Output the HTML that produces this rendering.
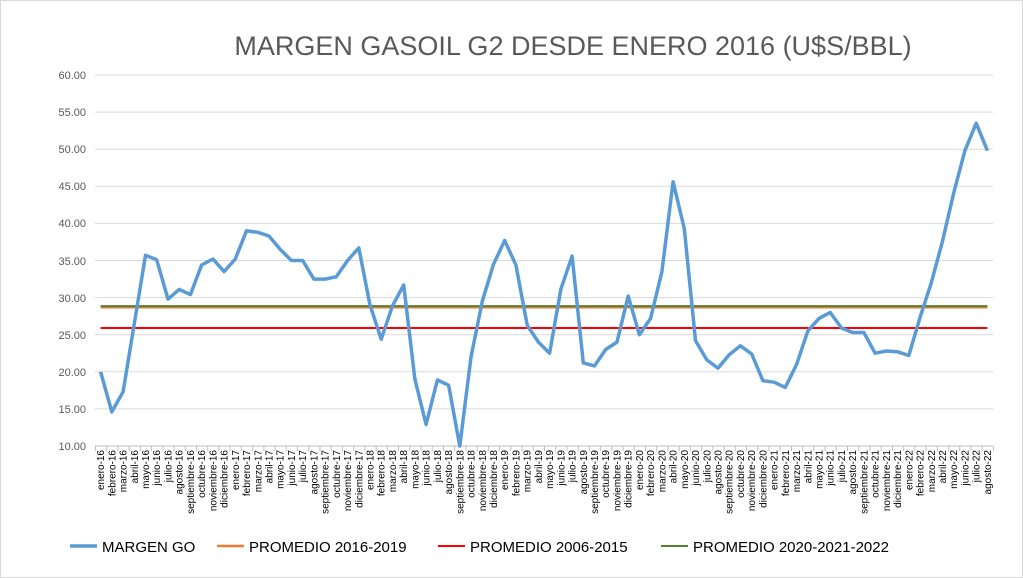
<!DOCTYPE html><html><head><style>body{margin:0;background:#fff}svg{display:block}text{font-family:"Liberation Sans",sans-serif}</style></head><body>
<svg width="1023" height="578" xmlns="http://www.w3.org/2000/svg">
<rect x="0.5" y="0.5" width="1022" height="577" fill="#fff" stroke="#d9d9d9"/>
<text x="573" y="55" font-size="27" fill="#595959" text-anchor="middle">MARGEN GASOIL G2 DESDE ENERO 2016 (U$S/BBL)</text>
<g stroke="#d9d9d9">
<line x1="95" x2="993" y1="408.9" y2="408.9"/><line x1="95" x2="993" y1="371.8" y2="371.8"/><line x1="95" x2="993" y1="334.7" y2="334.7"/><line x1="95" x2="993" y1="297.6" y2="297.6"/><line x1="95" x2="993" y1="260.5" y2="260.5"/><line x1="95" x2="993" y1="223.4" y2="223.4"/><line x1="95" x2="993" y1="186.3" y2="186.3"/><line x1="95" x2="993" y1="149.2" y2="149.2"/><line x1="95" x2="993" y1="112.1" y2="112.1"/><line x1="95" x2="993" y1="75" y2="75"/>
</g>
<line x1="95" x2="993" y1="446" y2="446" stroke="#bfbfbf"/>
<line x1="95" x2="994" y1="448.5" y2="448.5" stroke="#bfbfbf" stroke-width="5" stroke-dasharray="1 10.225"/>
<g font-size="11" fill="#595959" text-anchor="end">
<text x="86" y="450">10.00</text><text x="86" y="413">15.00</text><text x="86" y="376">20.00</text><text x="86" y="339">25.00</text><text x="86" y="302">30.00</text><text x="86" y="265">35.00</text><text x="86" y="227">40.00</text><text x="86" y="190">45.00</text><text x="86" y="153">50.00</text><text x="86" y="116">55.00</text><text x="86" y="79">60.00</text>
</g>
<g font-size="10" fill="#000" text-anchor="end">
<text transform="translate(104.1,450) rotate(-90)">enero-16</text>
<text transform="translate(115.3,450) rotate(-90)">febrero-16</text>
<text transform="translate(126.6,450) rotate(-90)">marzo-16</text>
<text transform="translate(137.8,450) rotate(-90)">abril-16</text>
<text transform="translate(149.0,450) rotate(-90)">mayo-16</text>
<text transform="translate(160.2,450) rotate(-90)">junio-16</text>
<text transform="translate(171.5,450) rotate(-90)">julio-16</text>
<text transform="translate(182.7,450) rotate(-90)">agosto-16</text>
<text transform="translate(193.9,450) rotate(-90)">septiembre-16</text>
<text transform="translate(205.1,450) rotate(-90)">octubre-16</text>
<text transform="translate(216.4,450) rotate(-90)">noviembre-16</text>
<text transform="translate(227.6,450) rotate(-90)">diciembre-16</text>
<text transform="translate(238.8,450) rotate(-90)">enero-17</text>
<text transform="translate(250.0,450) rotate(-90)">febrero-17</text>
<text transform="translate(261.3,450) rotate(-90)">marzo-17</text>
<text transform="translate(272.5,450) rotate(-90)">abril-17</text>
<text transform="translate(283.7,450) rotate(-90)">mayo-17</text>
<text transform="translate(294.9,450) rotate(-90)">junio-17</text>
<text transform="translate(306.2,450) rotate(-90)">julio-17</text>
<text transform="translate(317.4,450) rotate(-90)">agosto-17</text>
<text transform="translate(328.6,450) rotate(-90)">septiembre-17</text>
<text transform="translate(339.8,450) rotate(-90)">octubre-17</text>
<text transform="translate(351.1,450) rotate(-90)">noviembre-17</text>
<text transform="translate(362.3,450) rotate(-90)">diciembre-17</text>
<text transform="translate(373.5,450) rotate(-90)">enero-18</text>
<text transform="translate(384.7,450) rotate(-90)">febrero-18</text>
<text transform="translate(396.0,450) rotate(-90)">marzo-18</text>
<text transform="translate(407.2,450) rotate(-90)">abril-18</text>
<text transform="translate(418.4,450) rotate(-90)">mayo-18</text>
<text transform="translate(429.6,450) rotate(-90)">junio-18</text>
<text transform="translate(440.9,450) rotate(-90)">julio-18</text>
<text transform="translate(452.1,450) rotate(-90)">agosto-18</text>
<text transform="translate(463.3,450) rotate(-90)">septiembre-18</text>
<text transform="translate(474.5,450) rotate(-90)">octubre-18</text>
<text transform="translate(485.8,450) rotate(-90)">noviembre-18</text>
<text transform="translate(497.0,450) rotate(-90)">diciembre-18</text>
<text transform="translate(508.2,450) rotate(-90)">enero-19</text>
<text transform="translate(519.4,450) rotate(-90)">febrero-19</text>
<text transform="translate(530.7,450) rotate(-90)">marzo-19</text>
<text transform="translate(541.9,450) rotate(-90)">abril-19</text>
<text transform="translate(553.1,450) rotate(-90)">mayo-19</text>
<text transform="translate(564.3,450) rotate(-90)">junio-19</text>
<text transform="translate(575.6,450) rotate(-90)">julio-19</text>
<text transform="translate(586.8,450) rotate(-90)">agosto-19</text>
<text transform="translate(598.0,450) rotate(-90)">septiembre-19</text>
<text transform="translate(609.2,450) rotate(-90)">octubre-19</text>
<text transform="translate(620.5,450) rotate(-90)">noviembre-19</text>
<text transform="translate(631.7,450) rotate(-90)">diciembre-19</text>
<text transform="translate(642.9,450) rotate(-90)">enero-20</text>
<text transform="translate(654.1,450) rotate(-90)">febrero-20</text>
<text transform="translate(665.4,450) rotate(-90)">marzo-20</text>
<text transform="translate(676.6,450) rotate(-90)">abril-20</text>
<text transform="translate(687.8,450) rotate(-90)">mayo-20</text>
<text transform="translate(699.0,450) rotate(-90)">junio-20</text>
<text transform="translate(710.3,450) rotate(-90)">julio-20</text>
<text transform="translate(721.5,450) rotate(-90)">agosto-20</text>
<text transform="translate(732.7,450) rotate(-90)">septiembre-20</text>
<text transform="translate(743.9,450) rotate(-90)">octubre-20</text>
<text transform="translate(755.2,450) rotate(-90)">noviembre-20</text>
<text transform="translate(766.4,450) rotate(-90)">diciembre-20</text>
<text transform="translate(777.6,450) rotate(-90)">enero-21</text>
<text transform="translate(788.8,450) rotate(-90)">febrero-21</text>
<text transform="translate(800.1,450) rotate(-90)">marzo-21</text>
<text transform="translate(811.3,450) rotate(-90)">abril-21</text>
<text transform="translate(822.5,450) rotate(-90)">mayo-21</text>
<text transform="translate(833.7,450) rotate(-90)">junio-21</text>
<text transform="translate(845.0,450) rotate(-90)">julio-21</text>
<text transform="translate(856.2,450) rotate(-90)">agosto-21</text>
<text transform="translate(867.4,450) rotate(-90)">septiembre-21</text>
<text transform="translate(878.6,450) rotate(-90)">octubre-21</text>
<text transform="translate(889.9,450) rotate(-90)">noviembre-21</text>
<text transform="translate(901.1,450) rotate(-90)">diciembre-21</text>
<text transform="translate(912.3,450) rotate(-90)">enero-22</text>
<text transform="translate(923.5,450) rotate(-90)">febrero-22</text>
<text transform="translate(934.8,450) rotate(-90)">marzo-22</text>
<text transform="translate(946.0,450) rotate(-90)">abril-22</text>
<text transform="translate(957.2,450) rotate(-90)">mayo-22</text>
<text transform="translate(968.4,450) rotate(-90)">junio-22</text>
<text transform="translate(979.7,450) rotate(-90)">julio-22</text>
<text transform="translate(990.9,450) rotate(-90)">agosto-22</text>
</g>
<line x1="100.6" x2="987.4" y1="328" y2="328" stroke="#ff0000" stroke-width="2"/>
<line x1="100.6" x2="987.4" y1="307.2" y2="307.2" stroke="#ed7d31" stroke-width="2.5"/>
<line x1="100.6" x2="987.4" y1="306.1" y2="306.1" stroke="#548235" stroke-width="2"/>
<path fill="none" stroke="#5b9bd5" stroke-width="3.5" stroke-linejoin="round" d="M100.6,371.8 L111.8,411.9 L123.1,391.8 L134.3,323.6 L145.5,255.3 L156.7,259.8 L168.0,299.1 L179.2,289.4 L190.4,294.6 L201.6,265.0 L212.9,259.0 L224.1,271.6 L235.3,259.0 L246.5,230.8 L257.8,232.3 L269.0,236.0 L280.2,249.4 L291.4,260.5 L302.7,260.5 L313.9,279.1 L325.1,279.1 L336.3,276.8 L347.6,260.5 L358.8,247.9 L370.0,305.0 L381.2,339.2 L392.5,305.8 L403.7,285.0 L414.9,379.2 L426.1,424.5 L437.4,380.0 L448.6,385.2 L459.8,446.0 L471.0,357.0 L482.3,301.3 L493.5,264.2 L504.7,240.5 L515.9,265.0 L527.2,325.1 L538.4,342.1 L549.6,353.2 L560.8,289.4 L572.1,256.1 L583.3,362.9 L594.5,365.9 L605.7,349.5 L617.0,342.1 L628.2,296.1 L639.4,334.7 L650.6,318.4 L661.9,271.6 L673.1,181.8 L684.3,228.6 L695.5,340.6 L706.8,359.9 L718.0,368.1 L729.2,354.7 L740.4,345.8 L751.7,354.0 L762.9,380.7 L774.1,382.2 L785.3,387.4 L796.6,364.4 L807.8,331.0 L819.0,318.4 L830.2,312.4 L841.5,328.0 L852.7,332.5 L863.9,332.5 L875.1,353.2 L886.4,351.0 L897.6,351.8 L908.8,355.5 L920.0,317.6 L931.3,282.8 L942.5,241.2 L953.7,193.0 L964.9,150.7 L976.2,123.2 L987.4,150.7"/>
<g font-size="15" fill="#000">
<line x1="70" x2="97" y1="546" y2="546" stroke="#5b9bd5" stroke-width="3.5"/><text x="102" y="552">MARGEN GO</text>
<line x1="217" x2="244" y1="546" y2="546" stroke="#ed7d31" stroke-width="2.5"/><text x="249" y="552">PROMEDIO 2016-2019</text>
<line x1="438" x2="465" y1="546" y2="546" stroke="#ff0000" stroke-width="2"/><text x="470" y="552">PROMEDIO 2006-2015</text>
<line x1="661" x2="688" y1="546" y2="546" stroke="#548235" stroke-width="2"/><text x="693" y="552">PROMEDIO 2020-2021-2022</text>
</g>
</svg></body></html>
